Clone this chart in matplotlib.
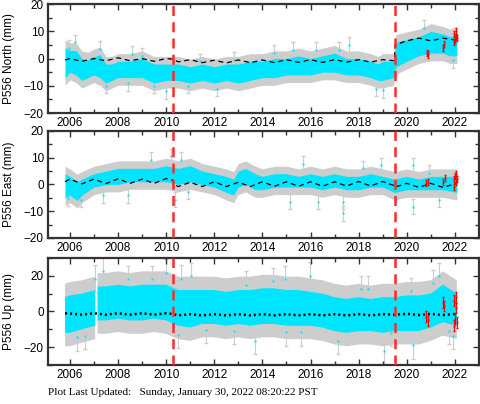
import numpy as np
import matplotlib
matplotlib.use("Agg")
import matplotlib.pyplot as plt
from matplotlib.ticker import MultipleLocator

# ---- data (mm vs decimal year) ----
# cyan scatter envelope (low / high) per component
t_n = [2005.80, 2006.0, 2006.25, 2006.5, 2006.75, 2007.0, 2007.25, 2007.5, 2007.75, 2008.0, 2008.5,
       2009.0, 2009.5, 2010.0, 2010.5, 2011.0, 2011.5, 2012.0, 2012.5, 2013.0, 2013.5, 2014.0,
       2014.5, 2015.0, 2015.5, 2016.0, 2016.5, 2017.0, 2017.5, 2018.0, 2018.5, 2018.8, 2019.0,
       2019.45, 2019.55, 2020.0, 2020.5, 2021.0, 2021.5, 2021.8, 2022.08]
lo_n = [-7, -5, -6, -8, -7, -6, -7, -9, -8, -7, -7,
        -7, -9, -8, -8, -9, -8, -9, -8, -9, -8, -7,
        -7, -6, -6, -6, -5, -5, -6, -6, -7, -8, -8,
        -7, -3, -1, 1, 2, 2, 1, 1]
hi_n = [4, 3, 3, 0, -0.5, 0.7, 1.4, -2, -2, -1, -1,
        0, -2, -2, -2, -3, -2, -3, -2, -2, -1, -1,
        0, 0, 1, 0, 1, 2, 0, 0, -1, -2, -1,
        -1, 6, 7, 8, 10, 9, 8, 9]

t_e = [2005.80, 2006.0, 2006.3, 2006.5, 2007.0, 2007.5, 2008.0, 2008.5, 2009.0, 2009.5,
       2010.0, 2010.5, 2011.0, 2011.5, 2012.0, 2012.5, 2012.8, 2013.0, 2013.3, 2013.7,
       2014.0, 2014.5, 2015.0, 2015.5, 2016.0, 2016.5, 2017.0, 2017.5, 2018.0, 2018.5,
       2019.0, 2019.5, 2020.0, 2020.5, 2021.0, 2021.5, 2022.08]
lo_e = [-5, -4, -6, -4, -1, 0, 0, 1, 1, 1,
        1, 0, 1, 0, -1, -3, -4, -1, 0, -2,
        -2, -1, -1, -1, -1, -2, -1, -2, -2, -1,
        -1, -3, -2, -2, -2, -2, -3]
hi_e = [4, 3, 1, 2, 4, 5, 6, 6, 6, 6,
        7, 6, 7, 5, 4, 3, 2, 5, 6, 4,
        3, 4, 4, 3, 4, 3, 4, 3, 3, 4,
        3, 2, 3, 2, 3, 3, 3]

t_u = [2005.80, 2006.0, 2006.5, 2007.05, 2007.1, 2007.15, 2007.5, 2008.0, 2008.5, 2009.0,
       2009.5, 2010.0, 2010.5, 2011.0, 2011.5, 2012.0, 2012.5, 2013.0, 2013.5, 2014.0,
       2014.5, 2015.0, 2015.5, 2016.0, 2016.5, 2017.0, 2017.5, 2018.0, 2018.5, 2019.0,
       2019.5, 2020.0, 2020.5, 2021.0, 2021.5, 2022.08]
lo_u = [-12, -12, -10, -8, np.nan, -5, -5, -4, -5, -5,
        -4, -5, -8, -9, -7, -7, -8, -7, -8, -7,
        -7, -8, -8, -8, -9, -11, -12, -11, -11, -12,
        -11, -11, -11, -9, -6, -8]
hi_u = [8, 9, 10, 12, np.nan, 14, 14, 15, 14, 15,
        15, 15, 12, 12, 12, 12, 11, 12, 12, 13,
        13, 12, 12, 11, 10, 8, 7, 8, 7, 8,
        8, 9, 9, 10, 15, 10]

# typical one-sigma error bar (grey) per component
sig_n, sig_e, sig_u = 2.8, 2.8, 7.5

# isolated points outside the main cloud
out_t_n = [2005.95, 2006.2, 2007.25, 2007.5, 2008.4, 2008.6, 2009.0, 2009.5, 2010.0, 2010.9,
           2011.4, 2012.1, 2012.8, 2014.5, 2015.26, 2016.24, 2017.2, 2017.6, 2018.73, 2019.0,
           2020.5, 2020.7, 2021.63, 2021.93]
out_y_n = [4, 6, 3.5, -10, -9, 1.7, 1, -10, -12, -10,
           -1, -11, -0.5, 2.2, 3.2, 3.2, 3.2, 5, -11, -11.6,
           4.4, 11.2, 6.9, -0.5]
out_t_e = [2005.93, 2006.48, 2007.38, 2008.42, 2009.39, 2010.22, 2010.38, 2010.63, 2010.9, 2015.7,
           2015.13, 2016.3, 2017.34, 2017.34, 2018.17, 2018.93, 2020.24, 2020.24, 2020.94, 2021.35]
out_y_e = [-5.2, -5.8, -4, -4, 9.3, 10.5, -5.8, 9.3, -2.7, 7.8,
           -6.4, -6.4, -10.7, -6.4, 6, 7.2, 7.2, -8.3, 4.3, -5.8]
out_t_u = [2006.28, 2006.62, 2007.04, 2007.38, 2008.42, 2009.4, 2010.0, 2010.63, 2010.5, 2011.05,
           2011.67, 2012.8, 2013.33, 2014.44, 2014.92, 2015.96, 2015.6, 2015.0, 2013.68, 2017.13,
           2018.1, 2018.4, 2019.07, 2019.35, 2020.24, 2020.18, 2021.08, 2021.35, 2021.9, 2021.77]
out_y_u = [-14.4, -13.5, 18.3, 22.6, 18, 18, 21.7, 18.3, -13, 19.8,
           -10.2, -10.7, 15, 17, 18, 20, -11.7, -11.7, -16.3, -16.3,
           12.4, 12.4, -21.9, -12, -19, 11.5, 15.7, 19.8, -13.5, -10.7]

# red (rapid) solutions
red_t_n = [2020.85, 2020.9, 2021.5, 2021.55, 2021.95, 2021.98, 2022.0, 2022.03, 2022.06, 2022.08]
red_y_n = [2, 1.5, 4, 5.5, 6, 9, 7, 8, 10, 7.5]
red_t_e = [2020.8, 2020.9, 2021.5, 2021.6, 2021.95, 2021.98, 2022.0, 2022.03, 2022.06, 2022.08]
red_y_e = [0.5, 1, 1, 2.5, -1, 2, 3, 1, 4, 2]
red_t_u = [2020.8, 2020.9, 2021.5, 2021.55, 2021.95, 2021.98, 2022.0, 2022.03, 2022.06, 2022.08]
red_y_u = [-3, -5, 5, 3, -8, 6, -4, 8, 2, -6]

# model curve (black dashed)
mod_t = [2005.8, 2006.0, 2006.5, 2007.0, 2007.5, 2008.0, 2008.5, 2009.0, 2009.5, 2010.0,
         2010.29, 2010.31, 2010.5, 2011.0, 2011.5, 2012.0, 2012.5, 2013.0, 2013.5, 2014.0,
         2014.5, 2015.0, 2015.5, 2016.0, 2016.5, 2017.0, 2017.5, 2018.0, 2018.5, 2019.0,
         2019.49, 2019.51, 2020.0, 2020.5, 2021.0, 2021.5, 2022.0, 2022.08]
mod_n = [-0.5, 0.0, -1.0, 0.0, -0.8, 0.3, -0.8, 0.0, -1.0, 0.0,
         -0.2, -0.3, -1.2, -0.4, -1.5, -0.6, -1.6, -0.5, -1.5, -0.5,
         -1.5, -0.4, -1.4, -0.4, -1.4, -0.4, -1.3, -0.4, -1.3, -0.4,
         -0.8, 5.0, 6.5, 7.5, 6.5, 7.5, 6.8, 7.0]
mod_e = [1.0, 2.0, 0.2, 2.0, 0.3, 2.1, 0.4, 2.0, 0.4, 2.2,
         1.5, 0.2, -0.8, 0.8, -0.8, 1.0, -0.8, 0.8, -0.8, 1.0,
         -0.7, 1.0, -0.7, 1.0, -0.7, 1.0, -0.6, 1.1, -0.6, 1.1,
         -0.5, -1.0, 0.4, -1.1, 0.4, -1.1, 0.2, 0.3]
mod_u = [-1.0, -1.2, -1.8, -1.0, -1.8, -1.0, -1.8, -1.0, -1.8, -1.0,
         -1.4, -1.5, -2.2, -1.5, -2.2, -1.5, -2.2, -1.5, -2.2, -1.5,
         -2.2, -1.5, -2.2, -1.5, -2.2, -1.5, -2.2, -1.5, -2.2, -1.5,
         -1.8, -1.8, -1.3, -2.0, -1.3, -2.0, -1.4, -1.5]

breaks = [2010.28, 2019.52]

panels = [
    ("P556 North (mm)", t_n, lo_n, hi_n, sig_n, out_t_n, out_y_n, red_t_n, red_y_n, mod_n, (-20, 20), 10, 5),
    ("P556 East (mm)", t_e, lo_e, hi_e, sig_e, out_t_e, out_y_e, red_t_e, red_y_e, mod_e, (-20, 20), 10, 5),
    ("P556 Up (mm)", t_u, lo_u, hi_u, sig_u, out_t_u, out_y_u, red_t_u, red_y_u, mod_u, (-30, 30), 20, 10),
]

cyan = "#00e5ff"
grey = "#cdcdcd"
plt.rcParams["font.family"] = ["Liberation Sans", "DejaVu Sans"]

fig = plt.figure(figsize=(4.81, 4.04), dpi=100)
rects = [[0.0998, 0.720, 0.896, 0.270],
         [0.0998, 0.411, 0.896, 0.265],
         [0.0998, 0.0965, 0.896, 0.265]]

for rect, (lab, t, lo, hi, sig, ot, oy, rt, ry, mod, ylim, maj, mnr) in zip(rects, panels):
    ax = fig.add_axes(rect)
    t = np.array(t)
    lo = np.array(lo, dtype=float)
    hi = np.array(hi, dtype=float)
    ax.fill_between(t, lo - sig, hi + sig, color=grey, lw=0, zorder=1)
    ax.errorbar(ot, oy, yerr=sig, fmt="none", ecolor=grey, elinewidth=0.8, capsize=1.5, zorder=1)
    ax.fill_between(t, lo, hi, color=cyan, lw=0, zorder=2)
    ax.plot(ot, oy, "s", ms=2, color=cyan, mec="none", zorder=3)
    if lab.startswith("P556 Up"):
        ax.plot(mod_t, mod, color="black", lw=1.8, ls=(0, (0.8, 1.2)), zorder=4)
    else:
        ax.plot(mod_t, mod, color="black", lw=0.9, ls=(0, (4, 3)), zorder=4)
    ax.errorbar(rt, ry, yerr=sig * 0.4, fmt="s", ms=2, color="red", mec="none",
                ecolor="red", elinewidth=0.8, capsize=1, zorder=5)
    for b in breaks:
        ax.axvline(b, color="#ff2a2a", lw=1.8, ls=(0, (4, 2.5)), zorder=6)
    ax.set_xlim(2005.09, 2023.0)
    ax.set_ylim(*ylim)
    ax.xaxis.set_major_locator(MultipleLocator(2))
    ax.xaxis.set_minor_locator(MultipleLocator(1))
    ax.yaxis.set_major_locator(MultipleLocator(maj))
    ax.yaxis.set_minor_locator(MultipleLocator(mnr))
    ax.tick_params(which="both", direction="in", top=True, right=True, labelsize=8.5,
                   width=1.0, color="#333333", pad=3)
    ax.tick_params(which="major", length=4.5)
    ax.tick_params(which="minor", length=3)
    for s in ax.spines.values():
        s.set_linewidth(1.6)
        s.set_color("#333333")
    ax.set_ylabel(lab, fontsize=8.5)
    ax.yaxis.set_label_coords(-0.077, 0.5)

fig.text(0.0998, 0.017, "Plot Last Updated:   Sunday, January 30, 2022 08:20:22 PST",
         family="Liberation Serif", fontsize=8, ha="left", va="bottom")

fig.savefig("out.png", dpi=100)
